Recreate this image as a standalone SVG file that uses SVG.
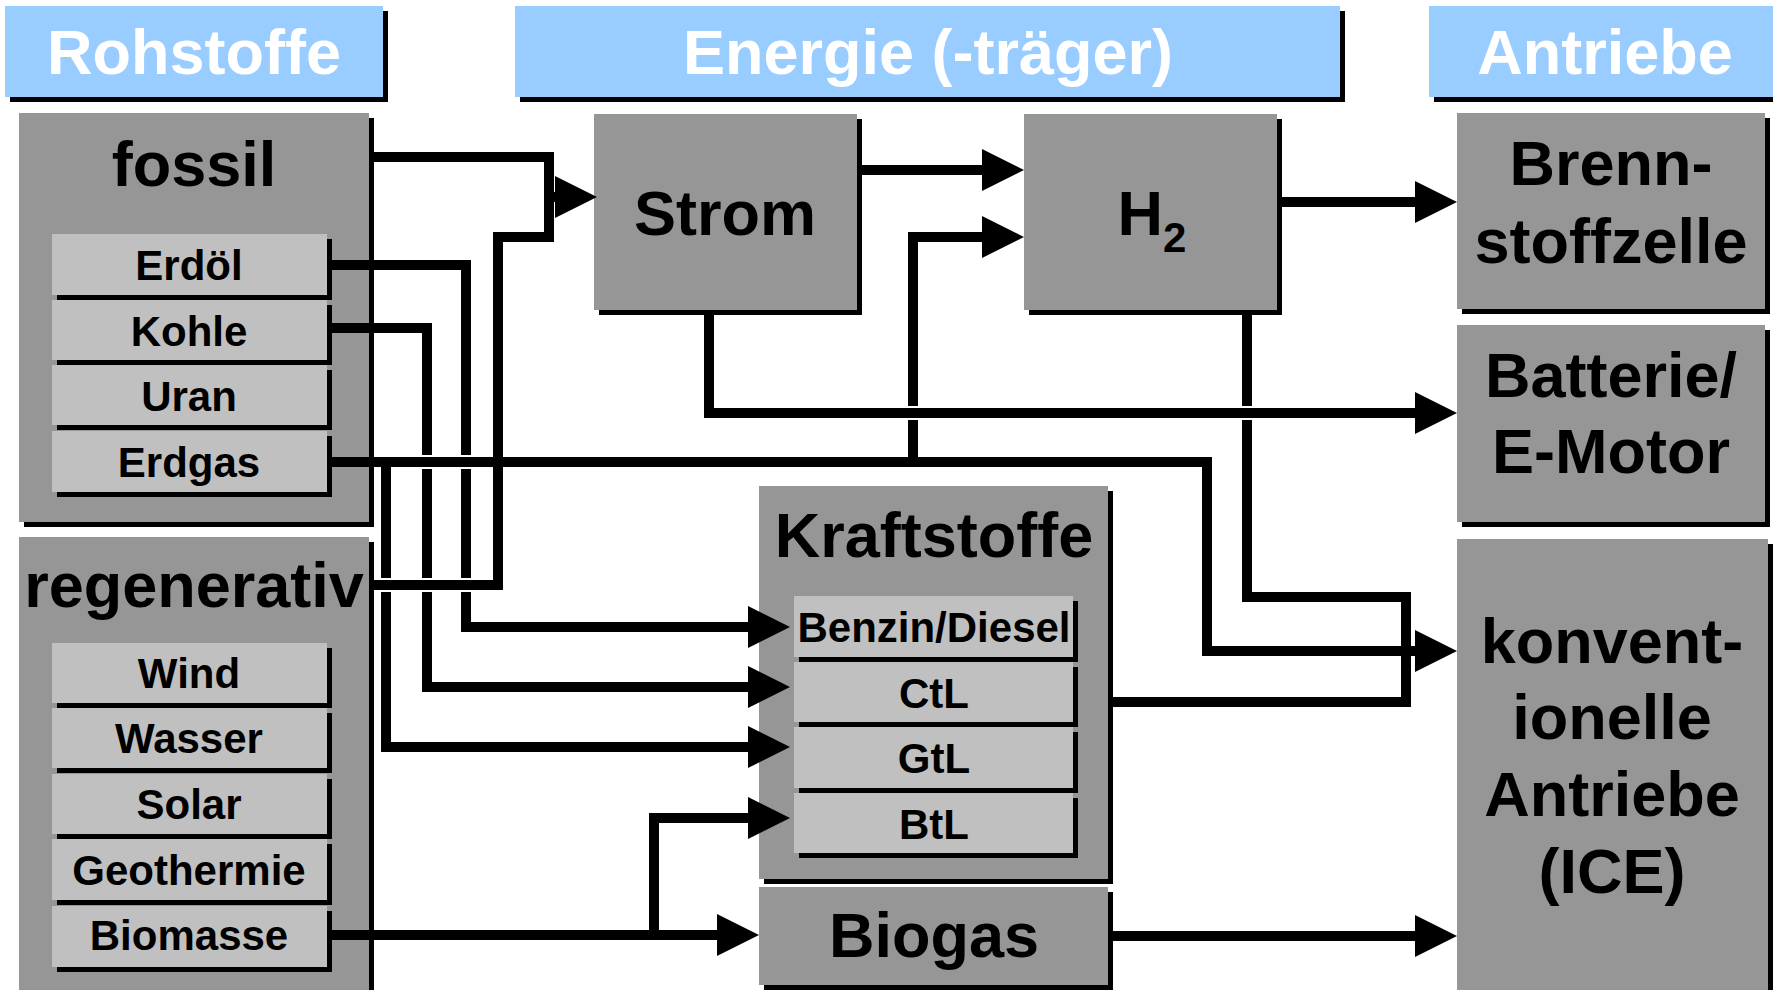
<svg xmlns="http://www.w3.org/2000/svg" width="1773" height="990" viewBox="0 0 1773 990">
<style>
.box{fill:#969696}
.item{fill:#c0c0c0}
.hdr{fill:#99ccff}
.sh{fill:#000}
.t{font-family:"Liberation Sans",Arial,sans-serif;font-weight:bold;text-anchor:middle;fill:#000}
.big{font-size:63px}
.sm{font-size:42px}
.w{fill:#fff}
.ln{fill:none;stroke:#000;stroke-width:10;stroke-linejoin:miter;stroke-linecap:butt}
.ar{marker-end:url(#ah)}
.gap{fill:#fff}
</style>
<defs>
<marker id="ah" markerUnits="userSpaceOnUse" markerWidth="42" markerHeight="42" refX="0" refY="21" orient="auto" viewBox="0 0 42 42"><path d="M0,0 L42,21 L0,42 z" fill="#000"/></marker>
</defs>
<rect width="1773" height="990" fill="#fff"/>

<!-- Headers -->
<g id="hdr-rohstoffe"><rect class="sh" x="10" y="11" width="378" height="91"/><rect class="hdr" x="5" y="6" width="378" height="91"/><text class="t big w" x="194" y="74">Rohstoffe</text></g>
<g id="hdr-energie"><rect class="sh" x="520" y="11" width="825" height="91"/><rect class="hdr" x="515" y="6" width="825" height="91"/><text class="t big w" x="928" y="74">Energie (-träger)</text></g>
<g id="hdr-antriebe"><rect class="sh" x="1434" y="11" width="350" height="91"/><rect class="hdr" x="1429" y="6" width="350" height="91"/><text class="t big w" x="1605" y="74">Antriebe</text></g>

<!-- Left column -->
<g id="fossil"><rect class="sh" x="24" y="118" width="350" height="409"/><rect class="box" x="19" y="113" width="350" height="409"/><text class="t big" x="194" y="186">fossil</text></g>
<g id="erdoel"><rect class="sh" x="57" y="239" width="275" height="61"/><rect class="item" x="52" y="234" width="275" height="61"/><text class="t sm" x="189" y="280">Erdöl</text></g>
<g id="kohle"><rect class="sh" x="57" y="305" width="275" height="60"/><rect class="item" x="52" y="300" width="275" height="60"/><text class="t sm" x="189" y="346">Kohle</text></g>
<g id="uran"><rect class="sh" x="57" y="370" width="275" height="60"/><rect class="item" x="52" y="365" width="275" height="60"/><text class="t sm" x="189" y="411">Uran</text></g>
<g id="erdgas"><rect class="sh" x="57" y="436" width="275" height="61"/><rect class="item" x="52" y="431" width="275" height="61"/><text class="t sm" x="189" y="477">Erdgas</text></g>

<g id="regenerativ"><rect class="sh" x="24" y="542" width="350" height="460"/><rect class="box" x="19" y="537" width="350" height="460"/><text class="t big" x="194" y="607">regenerativ</text></g>
<g id="wind"><rect class="sh" x="57" y="648" width="275" height="60"/><rect class="item" x="52" y="643" width="275" height="60"/><text class="t sm" x="189" y="688">Wind</text></g>
<g id="wasser"><rect class="sh" x="57" y="713" width="275" height="60"/><rect class="item" x="52" y="708" width="275" height="60"/><text class="t sm" x="189" y="753">Wasser</text></g>
<g id="solar"><rect class="sh" x="57" y="779" width="275" height="60"/><rect class="item" x="52" y="774" width="275" height="60"/><text class="t sm" x="189" y="819">Solar</text></g>
<g id="geothermie"><rect class="sh" x="57" y="844" width="275" height="61"/><rect class="item" x="52" y="839" width="275" height="61"/><text class="t sm" x="189" y="885">Geothermie</text></g>
<g id="biomasse"><rect class="sh" x="57" y="911" width="275" height="61"/><rect class="item" x="52" y="906" width="275" height="61"/><text class="t sm" x="189" y="950">Biomasse</text></g>

<!-- Middle column -->
<g id="strom"><rect class="sh" x="599" y="119" width="263" height="196"/><rect class="box" x="594" y="114" width="263" height="196"/><text class="t big" x="725" y="235">Strom</text></g>
<g id="h2"><rect class="sh" x="1029" y="119" width="253" height="196"/><rect class="box" x="1024" y="114" width="253" height="196"/><text class="t big" x="1152" y="235">H<tspan class="sm" dy="17">2</tspan></text></g>
<g id="kraftstoffe"><rect class="sh" x="764" y="491" width="349" height="393"/><rect class="box" x="759" y="486" width="349" height="393"/><text class="t big" x="934" y="557">Kraftstoffe</text></g>
<g id="benzin"><rect class="sh" x="799" y="601" width="279" height="61"/><rect class="item" x="794" y="596" width="279" height="61"/><text class="t sm" x="934" y="642">Benzin/Diesel</text></g>
<g id="ctl"><rect class="sh" x="799" y="667" width="279" height="60"/><rect class="item" x="794" y="662" width="279" height="60"/><text class="t sm" x="934" y="708">CtL</text></g>
<g id="gtl"><rect class="sh" x="799" y="732" width="279" height="61"/><rect class="item" x="794" y="727" width="279" height="61"/><text class="t sm" x="934" y="773">GtL</text></g>
<g id="btl"><rect class="sh" x="799" y="798" width="279" height="60"/><rect class="item" x="794" y="793" width="279" height="60"/><text class="t sm" x="934" y="839">BtL</text></g>
<g id="biogas"><rect class="sh" x="764" y="892" width="349" height="98"/><rect class="box" x="759" y="887" width="349" height="98"/><text class="t big" x="934" y="957">Biogas</text></g>

<!-- Right column -->
<g id="brennstoffzelle"><rect class="sh" x="1462" y="118" width="308" height="196"/><rect class="box" x="1457" y="113" width="308" height="196"/><text class="t big" x="1611" y="185">Brenn-</text><text class="t big" x="1611" y="263">stoffzelle</text></g>
<g id="batterie"><rect class="sh" x="1462" y="330" width="308" height="197"/><rect class="box" x="1457" y="325" width="308" height="197"/><text class="t big" x="1611" y="397">Batterie/</text><text class="t big" x="1611" y="473">E-Motor</text></g>
<g id="konventionelle"><rect class="sh" x="1462" y="544" width="311" height="460"/><rect class="box" x="1457" y="539" width="311" height="460"/><text class="t big" x="1612" y="663">konvent-</text><text class="t big" x="1612" y="739">ionelle</text><text class="t big" x="1612" y="816">Antriebe</text><text class="t big" x="1612" y="893">(ICE)</text></g>

<!-- Connectors -->
<g id="connectors">
<path class="ln" d="M373,157 H549 V237 H498 V585 H374"/>
<path class="ln ar" d="M549,197 H555"/>
<path class="ln ar" d="M332,265 H466 V627 H748"/>
<path class="ln ar" d="M332,328 H427 V687 H748"/>
<path class="ln ar" d="M386,462 V747 H748"/>
<path class="ln ar" d="M913,462 V237 H982"/>
<path class="ln ar" d="M332,462 H1207 V651 H1415"/>
<path class="ln ar" d="M862,170 H982"/>
<path class="ln ar" d="M709,313 V413 H1415"/>
<path class="ln ar" d="M1282,202 H1415"/>
<path class="ln" d="M1113,702 H1406 V597 H1247 V313"/>
<path class="ln ar" d="M332,935 H717"/>
<path class="ln ar" d="M654,935 V818 H748"/>
<path class="ln ar" d="M1113,936 H1415"/>
<!-- crossing gaps -->
<rect class="gap" x="420" y="455" width="14" height="14"/>
<rect class="gap" x="459" y="455" width="14" height="14"/>
<rect class="gap" x="420" y="578" width="14" height="14"/>
<rect class="gap" x="459" y="578" width="14" height="14"/>
<rect class="gap" x="379" y="578" width="14" height="14"/>
<rect class="gap" x="906" y="406" width="14" height="14"/>
<rect class="gap" x="1240" y="406" width="14" height="14"/>
<path class="ln" d="M410,462 H480"/>
<path class="ln" d="M374,585 H480"/>
<path class="ln" d="M900,413 H926"/>
<path class="ln" d="M1234,413 H1260"/>
</g>
</svg>
